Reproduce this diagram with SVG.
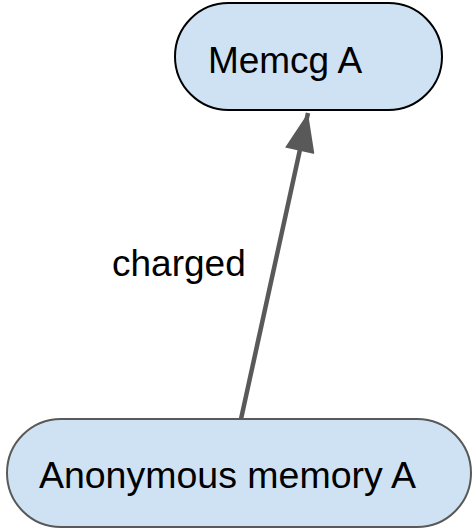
<svg xmlns="http://www.w3.org/2000/svg" width="473" height="530" viewBox="0 0 473 530">
  <style>
    .node { fill: #cfe2f3; stroke-width: 2; }
    .label { font-family: "Liberation Sans", Arial, sans-serif; font-size: 37px; fill: #000; }
    .edge { stroke: #595959; stroke-width: 4.5; fill: none; }
  </style>
  <defs>
    <marker id="arrow" markerUnits="userSpaceOnUse" markerWidth="40" markerHeight="30" viewBox="0 0 36 28" refX="36" refY="14" orient="auto">
      <path d="M0,0 L36,14 L0,28 Z" fill="#595959"/>
    </marker>
  </defs>
  <rect width="473" height="530" fill="#ffffff"/>
  <g id="connectors">
    <line class="edge" x1="241" y1="419" x2="308" y2="113" marker-end="url(#arrow)"/>
    <text class="label" x="112" y="276">charged</text>
  </g>
  <g id="memcg-a">
    <rect class="node" x="175" y="3" width="267" height="107" rx="53.5" stroke="#000000"/>
    <text class="label" x="285" y="73" text-anchor="middle">Memcg A</text>
  </g>
  <g id="anon-mem-a">
    <rect class="node" x="7" y="419" width="464" height="108" rx="54" stroke="#595959"/>
    <text class="label" x="227.5" y="488" text-anchor="middle" style="font-size:37.5px">Anonymous memory A</text>
  </g>
</svg>
